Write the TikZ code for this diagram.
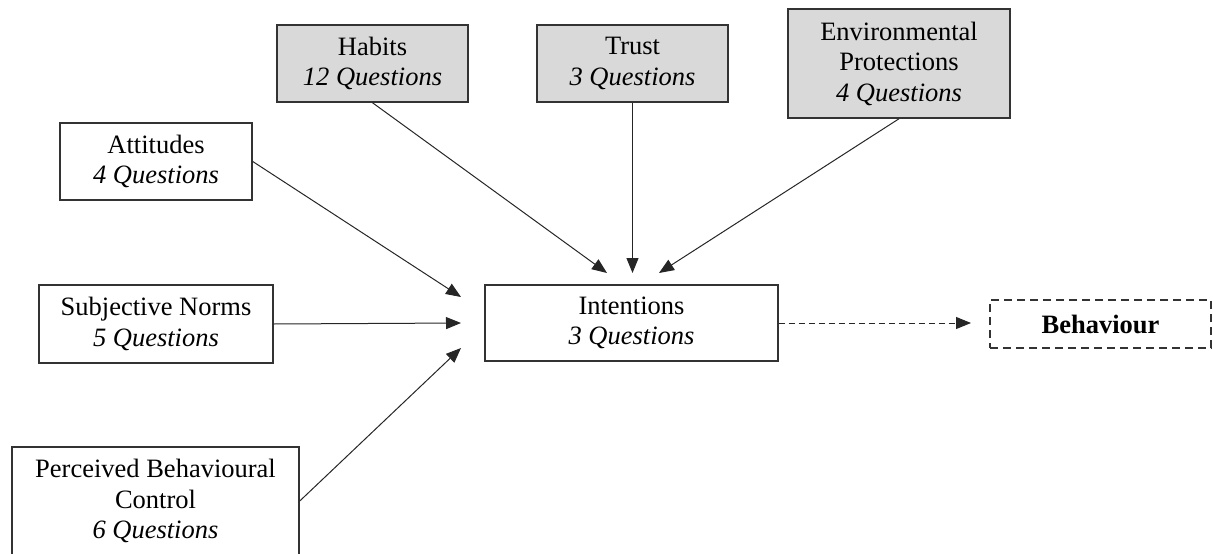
\documentclass[tikz,border=0pt]{standalone}
\usepackage{fontspec}
\setmainfont{Liberation Serif}
\usetikzlibrary{arrows.meta}
\definecolor{boxgray}{HTML}{D9D9D9}
\definecolor{edgegray}{HTML}{333333}
\tikzset{
  construct/.style={draw=edgegray, line width=1.5pt, inner sep=0pt, align=center,
    font=\fontsize{26.5}{30.5}\selectfont, anchor=center},
  extra/.style={construct, fill=boxgray},
  outcome/.style={construct, dashed, dash pattern=on 8pt off 5pt},
  link/.style={draw=black!85, line width=1pt, -{Triangle[length=15pt,width=12pt]}},
  dashlink/.style={link, dash pattern=on 6pt off 4pt}
}
\begin{document}
\begin{tikzpicture}[x=1pt, y=-1pt]
  \clip (0,0) rectangle (1213,554);
  \useasboundingbox (0,0) rectangle (1213,554);

  % added constructs (shaded)
  \node[extra, minimum width=191pt, minimum height=77pt] (habits) at (372.5,63.5)
    {Habits\\\textit{12 Questions}};
  \node[extra, minimum width=191pt, minimum height=77pt] (trust) at (632.5,63.5)
    {Trust\\\textit{3 Questions}};
  \node[extra, minimum width=222pt, minimum height=109pt] (env) at (899,63.5)
    {Environmental\\Protections\\\textit{4 Questions}};

  % theory of planned behaviour constructs
  \node[construct, minimum width=192pt, minimum height=77pt] (att) at (156,161.5)
    {Attitudes\\\textit{4 Questions}};
  \node[construct, minimum width=234pt, minimum height=78pt] (sn) at (156,324)
    {Subjective Norms\\\textit{5 Questions}};
  \node[construct, minimum width=287pt, minimum height=108pt] (pbc) at (155.5,501)
    {Perceived Behavioural\\Control\\\textit{6 Questions}};
  \node[construct, minimum width=293pt, minimum height=76pt] (int) at (631.5,323)
    {Intentions\\\textit{3 Questions}};
  \node[outcome, minimum width=221pt, minimum height=48pt] (beh) at (1100.5,324)
    {\textbf{Behaviour}};

  % arrow tip positions around the intentions box
  \coordinate (inA) at (461,297);
  \coordinate (inS) at (461,323);
  \coordinate (inP) at (461,348);
  \coordinate (inH) at (607,273);
  \coordinate (inT) at (632.5,273);
  \coordinate (inE) at (659,273);
  \coordinate (toB) at (971,323);

  \draw[link] (att.east) -- (inA);
  \draw[link] (sn.east) -- (inS);
  \draw[link] (pbc.east) -- (inP);
  \draw[link] (habits.south) -- (inH);
  \draw[link] (trust.south) -- (inT);
  \draw[link] (env.south) -- (inE);
  \draw[dashlink] (int.east) -- (toB);
\end{tikzpicture}
\end{document}
